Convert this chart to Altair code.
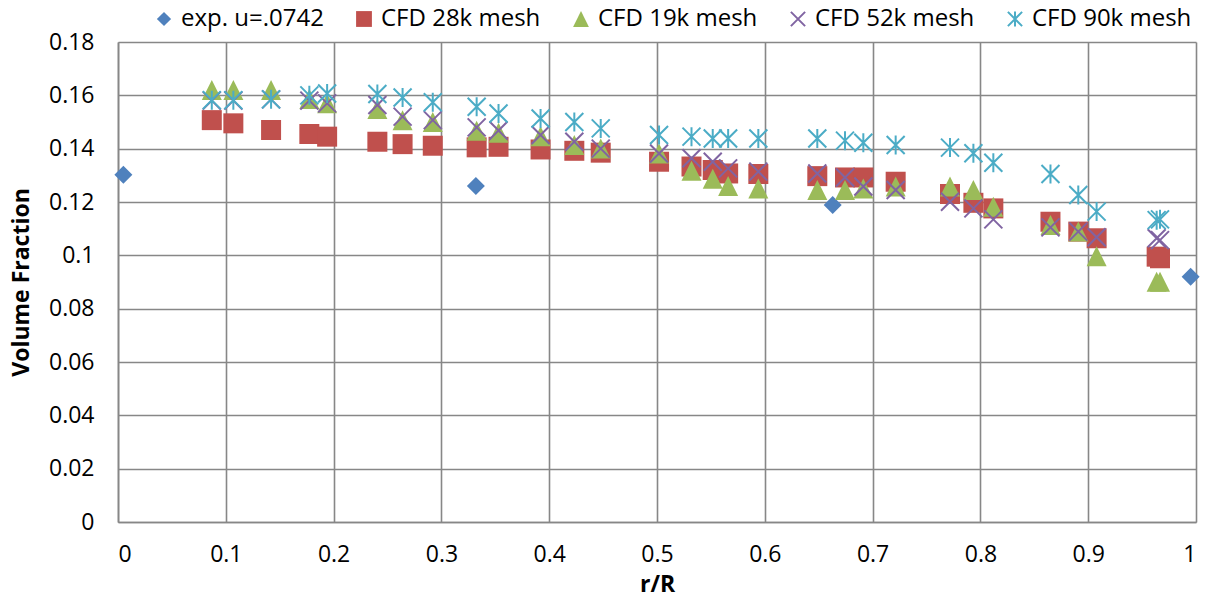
import altair as alt
import pandas as pd

# Experimental volume fraction profile
r_exp = [0.005, 0.332, 0.663, 0.995]
vf_exp = [0.1302, 0.1260, 0.1189, 0.0920]

# Radial stations shared by the CFD runs
r_cfd = [0.087, 0.107, 0.142, 0.1775, 0.194, 0.2406, 0.264, 0.292, 0.3327, 0.353,
         0.392, 0.4233, 0.4478, 0.5019, 0.532, 0.5517, 0.566, 0.594, 0.6487, 0.6744,
         0.6914, 0.7214, 0.7718, 0.7935, 0.812, 0.865, 0.8908, 0.9078, 0.9635, 0.9666]

vf_28k = [0.1507, 0.1495, 0.1470, 0.1455, 0.1445, 0.1426, 0.1417, 0.1411, 0.1405, 0.1407,
          0.1397, 0.1392, 0.1385, 0.1351, 0.1333, 0.1320, 0.1307, 0.1305, 0.1297, 0.1292,
          0.1292, 0.1276, 0.1230, 0.1197, 0.1176, 0.1126, 0.1089, 0.1064, 0.0995, 0.0989]

vf_19k = [0.1620, 0.1620, 0.1620, 0.1586, 0.1570, 0.1549, 0.1507, 0.1500, 0.1467, 0.1460,
          0.1447, 0.1414, 0.1401, 0.1382, 0.1317, 0.1287, 0.1260, 0.1251, 0.1245, 0.1245,
          0.1251, 0.1258, 0.1258, 0.1245, 0.1182, 0.1114, 0.1089, 0.0997, 0.0901, 0.0901]

vf_52k = [0.1580, 0.1580, 0.1585, 0.1580, 0.1570, 0.1564, 0.1520, 0.1507, 0.1480, 0.1468,
          0.1451, 0.1426, 0.1400, 0.1382, 0.1364, 0.1351, 0.1326, 0.1314, 0.1307, 0.1292,
          0.1258, 0.1245, 0.1201, 0.1176, 0.1135, 0.1105, 0.1089, 0.1068, 0.1064, 0.1057]

vf_90k = [0.1582, 0.1582, 0.1585, 0.1600, 0.1607, 0.1605, 0.1592, 0.1574, 0.1557, 0.1532,
          0.1513, 0.1500, 0.1476, 0.1451, 0.1445, 0.1438, 0.1438, 0.1438, 0.1438, 0.1430,
          0.1422, 0.1414, 0.1404, 0.1383, 0.1347, 0.1305, 0.1226, 0.1164, 0.1132, 0.1135]

series_names = ["exp. u=.0742", "CFD 28k mesh", "CFD 19k mesh", "CFD 52k mesh", "CFD 90k mesh"]
# Marker outlines in unit coordinates (scaled by the point size)
series_shapes = ["M0,-0.9L0.9,0L0,0.9L-0.9,0Z",
                 "M-1,-1L1,-1L1,1L-1,1Z",
                 "M0,-1L1,1L-1,1Z",
                 "M-0.9,-0.9L0.9,0.9M-0.9,0.9L0.9,-0.9",
                 "M-0.9,-0.9L0.9,0.9M-0.9,0.9L0.9,-0.9M0,-0.95L0,0.95"]
series_fill = ["#4F81BD", "#C0504D", "#9BBB59", "transparent", "transparent"]
series_stroke = ["transparent", "transparent", "transparent", "#8064A2", "#4BACC6"]

x_ticks = [0, 0.1, 0.2, 0.3, 0.4, 0.5, 0.6, 0.7, 0.8, 0.9, 1]
y_ticks = [0, 0.02, 0.04, 0.06, 0.08, 0.1, 0.12, 0.14, 0.16, 0.18]

rows = []
for r, v in zip(r_exp, vf_exp):
    rows.append({"r": r, "vf": v, "series": series_names[0]})
for name, vals in zip(series_names[1:], [vf_28k, vf_19k, vf_52k, vf_90k]):
    for r, v in zip(r_cfd, vals):
        rows.append({"r": r, "vf": v, "series": name})
df = pd.DataFrame(rows)

FONT = "Open Sans"
GRID = "#878787"

legend = alt.Legend(
    title=None, orient="none", direction="horizontal",
    legendX=34, legendY=-35,
    labelFont=FONT, labelFontSize=24, labelColor="#000000",
    labelOffset=5, columnPadding=28,
    symbolSize=250, symbolStrokeWidth=2,
)

chart = alt.Chart(df).mark_point(opacity=1, strokeWidth=2, size=400).encode(
    x=alt.X("r:Q", title="r/R",
            scale=alt.Scale(domain=[0, 1], nice=False, zero=False),
            axis=alt.Axis(values=x_ticks, format="~g")),
    y=alt.Y("vf:Q", title="Volume Fraction",
            scale=alt.Scale(domain=[0, 0.18], nice=False),
            axis=alt.Axis(values=y_ticks, format="~g")),
    shape=alt.Shape("series:N", scale=alt.Scale(domain=series_names, range=series_shapes), legend=legend),
    fill=alt.Fill("series:N", scale=alt.Scale(domain=series_names, range=series_fill), legend=legend),
    stroke=alt.Stroke("series:N", scale=alt.Scale(domain=series_names, range=series_stroke), legend=legend),
).properties(
    width=1078,
    height=480,
    autosize=alt.AutoSizeParams(type="none"),
    padding={"left": 118, "top": 42, "right": 19, "bottom": 83},
).configure_view(
    stroke="transparent"
).configure_axis(
    gridColor=GRID, gridWidth=1.6, gridOpacity=1,
    domainColor=GRID, domainWidth=1.6,
    ticks=False,
    labelFont=FONT, labelFontSize=23, labelColor="#000000",
    titleFont=FONT, titleFontSize=23, titleFontWeight="bold", titleColor="#000000",
).configure_axisX(
    labelPadding=21, titlePadding=7,
).configure_axisY(
    labelPadding=24, titlePadding=15,
)

chart.save("out.html", embed_options={"renderer": "svg", "actions": False})
